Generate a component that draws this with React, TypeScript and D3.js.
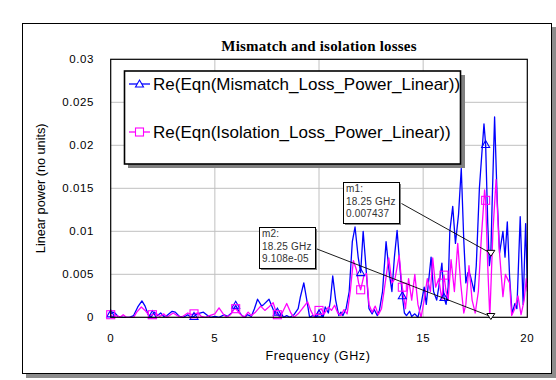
import React from "react";
import * as d3 from "d3";

const xTicks = [0, 5, 10, 15, 20];
const yTicks = [0, 0.005, 0.01, 0.015, 0.02, 0.025, 0.03];
const yTickLabels = ["0", "0.005", "0.01", "0.015", "0.02", "0.025", "0.03"];

const mismatchName = "Re(Eqn(Mismatch_Loss_Power_Linear))";
const isolationName = "Re(Eqn(Isolation_Loss_Power_Linear))";

const mismatch: [number, number][] = [
  [0.0, 0.0004], [0.1, 0.0006], [0.2, 0.0005], [0.35, 0.0001], [0.6, 0.0], [0.9, 0.0],
  [1.1, 0.0002], [1.3, 0.0012], [1.5, 0.0019], [1.65, 0.0013], [1.8, 0.0003], [1.95, 0.0],
  [2.0, 0.0003], [2.1, 0.0006], [2.25, 0.0002], [2.4, 0.0005], [2.55, 0.0001], [2.7, 0.0002],
  [2.95, 0.0007], [3.1, 0.0006], [3.3, 0.0001], [3.5, 0.0], [3.7, 0.0003], [3.85, 0.0],
  [4.0, 0.0001], [4.15, 0.0004], [4.45, 0.0006], [4.65, 0.0002], [4.8, 0.0], [5.0, 0.0001],
  [5.2, 0.0], [5.45, 0.0003], [5.6, 0.0001], [5.8, 0.0005], [6.0, 0.0014], [6.15, 0.0007],
  [6.3, 0.0002], [6.45, 0.0], [6.55, 0.0003], [6.75, 0.0001], [6.9, 0.001], [7.05, 0.0021],
  [7.25, 0.0013], [7.35, 0.0015], [7.6, 0.0021], [7.8, 0.0009], [7.95, 0.0004], [8.0, 0.0006],
  [8.1, 0.0001], [8.2, 0.0004], [8.3, 0.0], [8.45, 0.0002], [8.6, 0.0], [8.8, 0.0003],
  [9.0, 0.001], [9.1, 0.0023], [9.27, 0.004], [9.4, 0.0022], [9.55, 0.0], [9.7, 0.0002],
  [9.85, 0.0], [10.0, 0.0004], [10.1, 0.0003], [10.2, 0.0], [10.3, 0.0012], [10.45, 0.0005],
  [10.55, 0.002], [10.66, 0.0048], [10.8, 0.002], [10.95, 0.0002], [11.05, 0.0006], [11.15, 0.0002],
  [11.3, 0.001], [11.45, 0.003], [11.6, 0.0088], [11.73, 0.0105], [11.88, 0.007], [12.0, 0.0052],
  [12.12, 0.01], [12.25, 0.006], [12.4, 0.001], [12.55, 0.0004], [12.65, 0.0009], [12.8, 0.0002],
  [12.9, 0.0008], [13.05, 0.003], [13.22, 0.0088], [13.38, 0.005], [13.5, 0.003], [13.62, 0.007],
  [13.75, 0.0101], [13.88, 0.006], [14.0, 0.0025], [14.1, 0.0005], [14.2, 0.0002], [14.35, 0.0007],
  [14.45, 0.0001], [14.6, 0.0004], [14.75, 0.0], [14.9, 0.0015], [15.05, 0.0035], [15.15, 0.0015],
  [15.38, 0.007], [15.5, 0.003], [15.65, 0.002], [15.75, 0.0035], [15.9, 0.0063], [16.0, 0.0023],
  [16.1, 0.0015], [16.2, 0.0035], [16.28, 0.01], [16.42, 0.0129], [16.55, 0.0086], [16.7, 0.012],
  [16.83, 0.0173], [16.95, 0.009], [17.05, 0.004], [17.15, 0.0052], [17.25, 0.005], [17.35, 0.004],
  [17.45, 0.003], [17.55, 0.006], [17.7, 0.015], [17.92, 0.0225], [18.0, 0.0201], [18.1, 0.011],
  [18.18, 0.006], [18.25, 0.007437], [18.32, 0.014], [18.43, 0.0233], [18.55, 0.014], [18.67, 0.0075],
  [18.83, 0.01], [18.93, 0.007], [19.04, 0.0111], [19.15, 0.0047], [19.27, 0.0004], [19.4, 0.0016],
  [19.5, 0.001], [19.66, 0.0117], [19.8, 0.0015], [19.92, 0.0109], [20.0, 0.004],
];

const isolation: [number, number][] = [
  [0.0, 0.0003], [0.1, 0.0001], [0.3, 0.0002], [0.45, 0.0], [0.6, 0.0003], [0.75, 0.0],
  [1.1, 0.0], [1.25, 0.0006], [1.47, 0.0012], [1.65, 0.0008], [1.85, 0.0002], [2.0, 0.0003],
  [2.2, 0.0004], [2.35, 0.0001], [2.55, 0.0004], [2.7, 0.0], [3.0, 0.0005], [3.2, 0.0002],
  [3.4, 0.0], [3.7, 0.0005], [3.9, 0.0003], [4.0, 0.0004], [4.2, 0.0005], [4.35, 0.0001],
  [4.55, 0.0], [4.75, 0.0002], [5.0, 0.0004], [5.2, 0.0011], [5.4, 0.0004], [5.55, 0.0],
  [5.75, 0.0003], [5.9, 0.0009], [6.0, 0.001], [6.2, 0.0004], [6.4, 0.0], [6.6, 0.0006],
  [6.75, 0.0002], [6.95, 0.0006], [7.2, 0.0013], [7.4, 0.0008], [7.55, 0.0011], [7.8, 0.0017],
  [7.95, 0.0005], [8.0, 0.0003], [8.15, 0.0001], [8.45, 0.0016], [8.65, 0.0005], [8.8, 0.0],
  [9.0, 0.0004], [9.2, 0.001], [9.45, 0.0018], [9.6, 0.0008], [9.75, 0.0001], [9.9, 0.0003],
  [10.0, 0.0008], [10.1, 0.001], [10.25, 0.0004], [10.45, 0.0012], [10.6, 0.0008], [10.75, 0.0014],
  [10.9, 0.0005], [11.05, 0.0002], [11.2, 0.0009], [11.35, 0.0004], [11.5, 0.003], [11.65, 0.0066],
  [11.8, 0.0055], [11.9, 0.004], [12.0, 0.0032], [12.15, 0.0048], [12.28, 0.0051], [12.4, 0.0015],
  [12.55, 0.0006], [12.7, 0.0013], [12.85, 0.0003], [13.0, 0.001], [13.15, 0.0035], [13.35, 0.0069],
  [13.5, 0.004], [13.65, 0.0045], [13.85, 0.0072], [13.95, 0.0045], [14.0, 0.0035], [14.15, 0.001],
  [14.3, 0.0045], [14.45, 0.002], [14.6, 0.005], [14.75, 0.0015], [14.9, 0.0], [15.05, 0.002],
  [15.2, 0.0045], [15.35, 0.003], [15.46, 0.0069], [15.6, 0.0035], [15.75, 0.0045], [15.9, 0.002],
  [16.0, 0.0049], [16.1, 0.003], [16.2, 0.002], [16.34, 0.0067], [16.5, 0.003], [16.66, 0.0086],
  [16.8, 0.004], [16.95, 0.0005], [17.05, 0.0015], [17.2, 0.006], [17.35, 0.002], [17.5, 0.0005],
  [17.65, 0.003], [17.8, 0.0095], [17.95, 0.0148], [18.0, 0.0136], [18.1, 0.006], [18.2, 0.0],
  [18.35, 0.01], [18.5, 0.016], [18.65, 0.008], [18.83, 0.0024], [18.95, 0.005], [19.0, 0.0047],
  [19.15, 0.004], [19.25, 0.0002], [19.4, 0.001], [19.55, 0.0025], [19.7, 0.0003], [19.85, 0.002],
  [19.95, 0.0045], [20.0, 0.003],
];

const markerFreqs = [0, 2, 4, 6, 8, 10, 12, 14, 16, 18];

const markerNames = ["m1", "m2"];
const markerFreqLabels = ["18.25 GHz", "18.25 GHz"];
const markerValues = [0.007437, 0.00009108];
const markerValueLabels = ["0.007437", "9.108e-05"];

const BLUE = "#0000ff";
const MAGENTA = "#ff00ff";

export default function App() {
  const W = 556;
  const H = 380;
  const pl = 110.7, pr = 527.3, pt = 59.3, pb = 317.3;
  const x = d3.scaleLinear().domain([0, 20]).range([pl, pr]);
  const y = d3.scaleLinear().domain([0, 0.03]).range([pb, pt]);
  const line = d3.line<[number, number]>().x((d) => x(d[0])).y((d) => y(d[1]));

  const tri = "M0,-4 L4,3 L-4,3 Z";
  const triDown = "M-4,-3 L4,-3 L0,3 Z";
  const font = "Arial, 'Liberation Sans', sans-serif";

  const boxes = [
    { bx: 343, by: 182, lx: 401.5, ly: 203.5 },
    { bx: 259, by: 227, lx: 317, ly: 249 },
  ];

  return (
    <svg width={W} height={H} style={{ position: "fixed", left: 0, top: 0, background: "#fff" }} fontFamily={font}>
      {/* outer frame with shadow */}
      <rect x={26} y={27} width={530} height={351} fill="#8c8c8c" />
      <rect x={22.5} y={23.5} width={529} height={350} fill="#fff" stroke="#000" strokeWidth={1} />

      <text x={319} y={51} textAnchor="middle" fontFamily="'Liberation Serif', 'Times New Roman', serif" fontWeight="bold" fontSize={15} letterSpacing={0.2}>
        Mismatch and isolation losses
      </text>

      {/* grid */}
      {xTicks.slice(1, -1).map((t) => (
        <line key={"gx" + t} x1={x(t)} x2={x(t)} y1={pt} y2={pb} stroke="#c0c0c0" strokeWidth={1} />
      ))}
      {yTicks.slice(1, -1).map((t) => (
        <line key={"gy" + t} x1={pl} x2={pr} y1={y(t)} y2={y(t)} stroke="#c0c0c0" strokeWidth={1} />
      ))}

      {/* tick labels */}
      {xTicks.map((t) => (
        <text key={"xt" + t} x={x(t)} y={341.5} textAnchor="middle" fontSize={11.5} letterSpacing={0.6} fill="#000">
          {t}
        </text>
      ))}
      {yTicks.map((t, i) => (
        <text key={"yt" + t} x={94} y={y(t) + 4} textAnchor="end" fontSize={11.5} letterSpacing={0.6} fill="#000">
          {yTickLabels[i]}
        </text>
      ))}
      <text x={318} y={360} textAnchor="middle" fontSize={12.5} letterSpacing={0.6}>Frequency (GHz)</text>
      <text transform={`translate(45,${(pt + pb) / 2}) rotate(-90)`} textAnchor="middle" fontSize={12.7}>
        Linear power (no units)
      </text>

      {/* traces */}
      <path d={line(mismatch) || ""} fill="none" stroke={BLUE} strokeWidth={1.3} strokeLinejoin="round" />
      <path d={line(isolation) || ""} fill="none" stroke={MAGENTA} strokeWidth={1.3} strokeLinejoin="round" />
      {mismatch.filter((d) => markerFreqs.includes(d[0])).map((d) => (
        <path key={"mt" + d[0]} d={tri} transform={`translate(${x(d[0])},${y(d[1])})`} fill="none" stroke={BLUE} strokeWidth={1.1} />
      ))}
      {isolation.filter((d) => markerFreqs.includes(d[0])).map((d) => (
        <rect key={"ms" + d[0]} x={x(d[0]) - 4} y={y(d[1]) - 4} width={8} height={8} fill="none" stroke={MAGENTA} strokeWidth={1.1} />
      ))}

      {/* plot border */}
      <rect x={pl} y={pt} width={pr - pl} height={pb - pt} fill="none" stroke="#000" strokeWidth={1.2} />

      {/* legend */}
      <rect x={128} y={75} width={337} height={93} fill="#808080" />
      <rect x={124.5} y={71} width={336} height={93} fill="#fff" stroke="#000" strokeWidth={1.6} />
      <line x1={129} x2={150} y1={84} y2={84} stroke={BLUE} strokeWidth={1.3} />
      <path d={tri} transform="translate(139.5,84)" fill="#fff" stroke={BLUE} strokeWidth={1.1} />
      <text x={153} y={90} fontSize={17}>{mismatchName}</text>
      <line x1={129} x2={150} y1={132} y2={132} stroke={MAGENTA} strokeWidth={1.3} />
      <rect x={135.5} y={128} width={8} height={8} fill="#fff" stroke={MAGENTA} strokeWidth={1.1} />
      <text x={153} y={138} fontSize={17}>{isolationName}</text>

      {/* markers */}
      {markerNames.map((nm, i) => {
        const b = boxes[i];
        const px = x(18.25);
        const py = y(markerValues[i]);
        return (
          <g key={nm}>
            <line x1={b.lx} y1={b.ly} x2={px} y2={py} stroke="#000" strokeWidth={0.9} />
            <path d={triDown} transform={`translate(${px},${py})`} fill="#fff" stroke="#000" strokeWidth={1} />
            <rect x={b.bx + 2} y={b.by + 2} width={56} height={41} fill="#808080" />
            <rect x={b.bx + 0.5} y={b.by + 0.5} width={56} height={41} fill="#fff" stroke="#000" strokeWidth={1} />
            <text x={b.bx + 3} y={b.by + 10} fontSize={10} letterSpacing={0.2} fill="#333">{nm}:</text>
            <text x={b.bx + 3} y={b.by + 23} fontSize={10} letterSpacing={0.2} fill="#333">{markerFreqLabels[i]}</text>
            <text x={b.bx + 3} y={b.by + 35} fontSize={10} letterSpacing={0.2} fill="#333">{markerValueLabels[i]}</text>
          </g>
        );
      })}
    </svg>
  );
}
